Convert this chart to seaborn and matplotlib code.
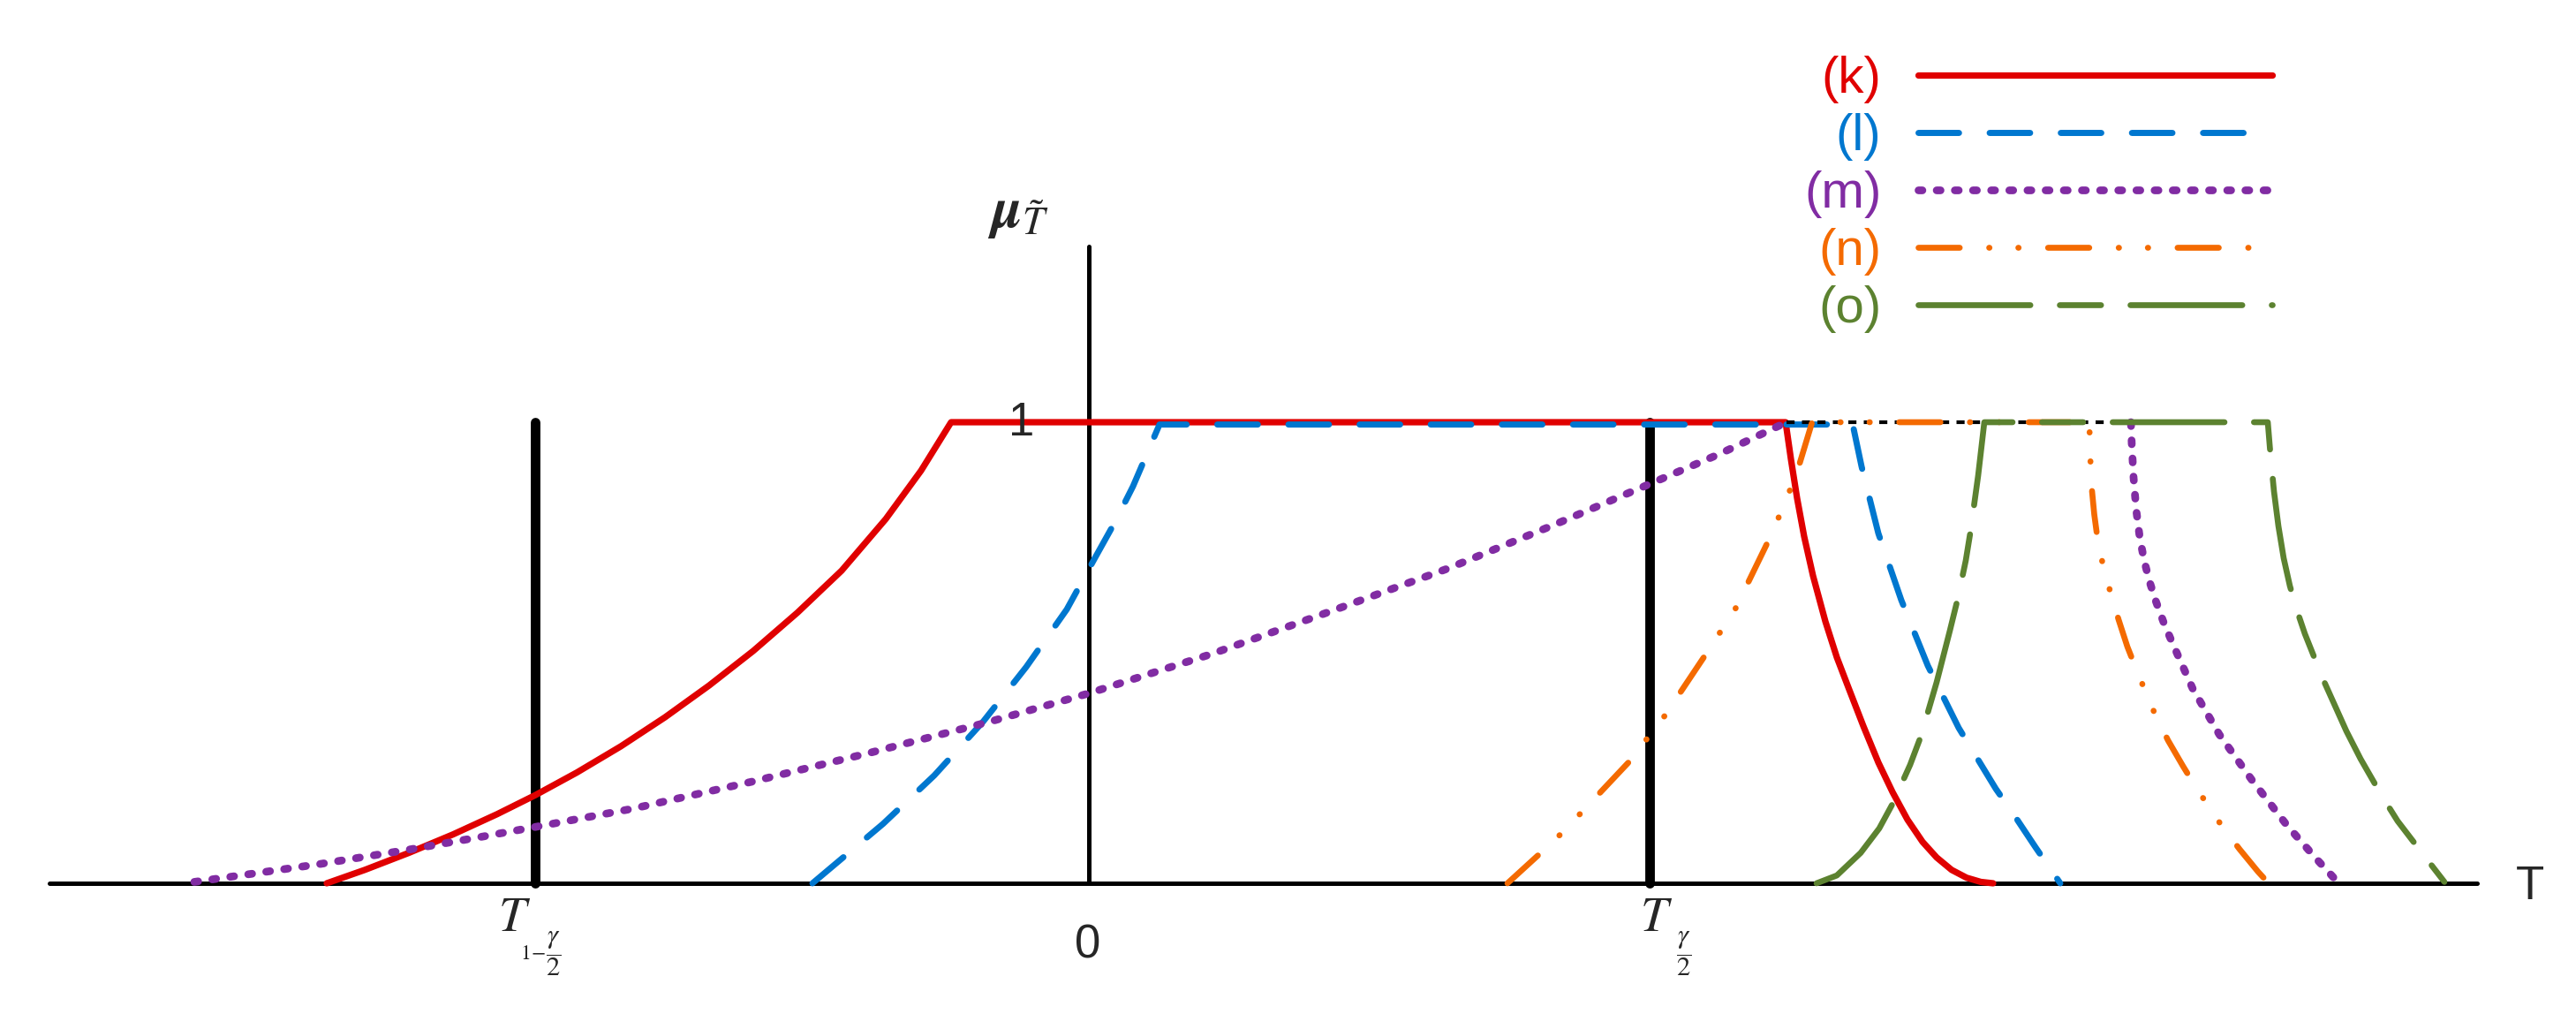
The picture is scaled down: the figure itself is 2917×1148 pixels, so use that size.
import matplotlib
matplotlib.use("Agg")
import matplotlib.pyplot as plt
import pandas as pd
import seaborn as sns

# membership curves (T on x, membership on y)
k_x = [-8.63, -8.2, -7.7, -7.2, -6.7, -6.27, -5.8, -5.3, -4.8, -4.3, -3.8, -3.3, -2.8, -2.3,
       -1.9, -1.56, 7.89, 7.95, 8.02, 8.10, 8.20, 8.34, 8.47, 8.60, 8.77, 8.94, 9.10, 9.27,
       9.44, 9.60, 9.77, 9.94, 10.10, 10.24]
k_y = [0.0, 0.029, 0.066, 0.106, 0.150, 0.191, 0.240, 0.297, 0.360, 0.429, 0.504, 0.587, 0.678,
       0.790, 0.895, 1.0, 1.0, 0.920, 0.835, 0.752, 0.667, 0.568, 0.490, 0.425, 0.341, 0.262,
       0.198, 0.138, 0.090, 0.056, 0.029, 0.012, 0.003, 0.0]

l_x = [-3.13, -2.33, -1.75, -1.20, -0.71, -0.25, 0.07, 0.30, 0.50, 0.80, 8.65, 8.75, 8.94,
       9.20, 9.50, 9.85, 10.27, 10.47, 10.72, 11.00]
l_y = [0.0, 0.129, 0.234, 0.350, 0.469, 0.594, 0.706, 0.785, 0.861, 0.995, 0.995, 0.904, 0.759,
       0.614, 0.472, 0.337, 0.205, 0.150, 0.078, 0.0]

m_rise_x = [-10.13, -9.50, -8.70, -7.70, -6.93, -6.16, -5.16, -3.80, -2.46, -1.13, 0.0, 1.40,
            2.74, 4.07, 5.25, 6.35, 7.14, 7.90]
m_rise_y = [0.003, 0.020, 0.042, 0.073, 0.099, 0.126, 0.162, 0.221, 0.284, 0.350, 0.412, 0.498,
            0.590, 0.683, 0.776, 0.866, 0.931, 1.0]
m_fall_x = [11.80, 11.81, 11.83, 11.86, 11.90, 11.95, 12.01, 12.08, 12.17, 12.27, 12.50, 12.80,
            13.17, 13.57, 13.90, 14.14]
m_fall_y = [1.0, 0.95, 0.88, 0.81, 0.750, 0.700, 0.655, 0.613, 0.566, 0.521, 0.422, 0.323,
            0.224, 0.125, 0.053, 0.003]
plateau_x = [7.90, 11.80]
plateau_y = [1.0, 1.0]

n_x = [4.74, 5.10, 5.34, 5.57, 6.12, 6.52, 6.97, 7.15, 7.32, 7.67, 7.81, 7.94, 8.04, 8.19,
       11.33, 11.335, 11.345, 11.36, 11.385, 11.42, 11.46, 11.51, 11.57, 11.66, 11.76, 11.89,
       12.07, 12.22, 12.39, 12.55, 12.82, 13.03, 13.24, 13.36]
n_y = [0.0, 0.063, 0.106, 0.152, 0.264, 0.363, 0.492, 0.545, 0.595, 0.733, 0.793, 0.853, 0.905,
       1.0, 1.0, 0.95, 0.90, 0.85, 0.80, 0.75, 0.71, 0.67, 0.630, 0.572, 0.513, 0.450, 0.368,
       0.310, 0.254, 0.204, 0.127, 0.074, 0.025, 0.0]

o_x = [8.24, 8.47, 8.74, 8.95, 9.10, 9.30, 9.42, 9.60, 9.75, 9.84, 9.93, 9.98, 10.07, 10.14,
       13.35, 13.38, 13.42, 13.47, 13.53, 13.60, 13.68, 13.77, 13.97, 14.24, 14.40, 14.64,
       14.82, 15.14, 15.35]
o_y = [0.0, 0.017, 0.066, 0.119, 0.172, 0.257, 0.318, 0.436, 0.548, 0.618, 0.700, 0.759, 0.884,
       1.0, 1.0, 0.93, 0.85, 0.775, 0.705, 0.645, 0.592, 0.541, 0.445, 0.330, 0.270, 0.190,
       0.135, 0.055, 0.003]

# quantile markers and axes
t_low = -6.27
t_high = 6.35
x_axis = [-11.77, 15.72]
y_axis_top = 1.381

labels = ["(k)", "(l)", "(m)", "(n)", "(o)"]
colors = ["#E00000", "#0077CF", "#812CA3", "#F46A00", "#5C8230"]

sns.set_style("white")
plt.rcParams["font.family"] = ["Liberation Sans", "DejaVu Sans"]
plt.rcParams["mathtext.fontset"] = "stix"

fig = plt.figure(figsize=(29.17, 11.48), dpi=100)
ax = fig.add_axes([0, 0, 1, 1])
ax.set_xlim(-12.33, 16.84)
ax.set_ylim(-0.2835, 1.9157)
ax.axis("off")

# axes and quantile lines
ax.plot(x_axis, [0, 0], color="black", lw=3.6, zorder=1)
ax.plot([0, 0], [0, y_axis_top], color="black", lw=3.6, zorder=1)
for t in (t_low, t_high):
    ax.plot([t, t], [0, 1], color="black", lw=7.8, solid_capstyle="round", zorder=1)


def curve(xs, ys, color, lw, ls, label=None, cap="round"):
    df = pd.DataFrame({"T": xs, "mu": ys})
    sns.lineplot(data=df, x="T", y="mu", ax=ax, color=color, linewidth=lw, linestyle=ls,
                 dash_capstyle=cap, solid_capstyle="round", solid_joinstyle="round",
                 sort=False, estimator=None, errorbar=None, legend=False, label=label)
    return ax.lines[-1]


h_k = curve(k_x, k_y, colors[0], 5.2, "-", labels[0])
h_l = curve(l_x, l_y, colors[1], 5.0, (0, (6.6, 5.0)), labels[1])
h_m = curve(m_rise_x, m_rise_y, colors[2], 6.3, (0, (0.5, 1.85)), labels[2])
curve(m_fall_x, m_fall_y, colors[2], 6.3, (0, (0.5, 1.85)))
curve(plateau_x, plateau_y, "black", 3.0, (0, (2.2, 2.0)), cap="butt")
h_n = curve(n_x, n_y, colors[3], 4.8, (0, (7.0, 5.0, 0.05, 4.9, 0.05, 5.0)), labels[3])
h_o = curve(o_x, o_y, colors[4], 4.8, (0, (19.0, 5.0, 7.0, 5.0)), labels[4])

ax.legend(handles=[h_k, h_l, h_m, h_n, h_o], labels=labels, loc="upper left",
          bbox_to_anchor=(2043 / 2917, 1 - 63 / 1148), bbox_transform=fig.transFigure,
          frameon=False, markerfirst=False, labelcolor="linecolor", fontsize=42,
          handlelength=6.86, handletextpad=0.72, labelspacing=0.19,
          borderpad=0, borderaxespad=0)

# labels
ax.text(-0.80, 1.450, r"$\boldsymbol{\mu}_{\tilde{T}}$", fontsize=46, ha="center", va="center")
ax.text(-0.76, 0.971, "1", fontsize=38, ha="center", va="baseline")
ax.text(-0.01, -0.162, "0", fontsize=38, ha="center", va="baseline")
ax.text(16.32, -0.034, "T", fontsize=38, ha="center", va="baseline")
ax.text(-6.50, -0.077, r"$T$", fontsize=40, ha="center", va="center")
ax.text(-6.29, -0.153, r"$1\!-$", fontsize=17, ha="center", va="center")
ax.text(-6.06, -0.153, r"$\dfrac{\gamma}{2}$", fontsize=22, ha="center", va="center")
ax.text(6.43, -0.077, r"$T$", fontsize=40, ha="center", va="center")
ax.text(6.74, -0.153, r"$\dfrac{\gamma}{2}$", fontsize=22, ha="center", va="center")

fig.savefig("out.png", dpi=100)
